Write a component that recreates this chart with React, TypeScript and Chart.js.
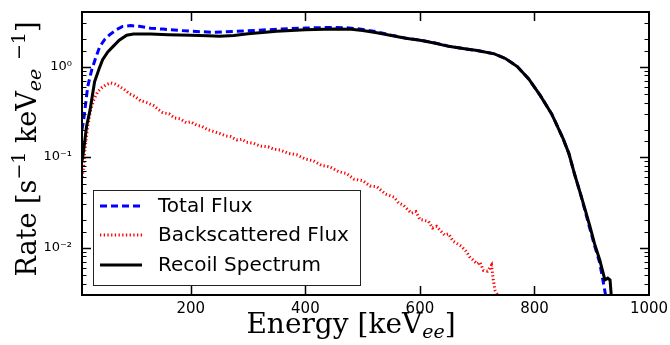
import React, { useEffect, useRef } from "react";
import { Chart, registerables } from "chart.js";

Chart.register(...registerables);

// ---- Data ----
const recoilEnergy = [10, 13, 18, 24, 32, 40, 46, 55, 64, 75, 88, 100, 130, 160, 200, 230, 250, 275, 300, 350, 400, 450, 480, 500, 525, 550, 575, 600, 625, 650, 675, 700, 730, 750, 770, 790, 810, 830, 850, 860, 870, 880, 888, 897, 905, 914, 923, 928, 932, 935, 937];
const recoilRate = [0.09, 0.12, 0.22, 0.33, 0.68, 0.95, 1.19, 1.45, 1.66, 1.95, 2.22, 2.28, 2.28, 2.25, 2.22, 2.18, 2.16, 2.2, 2.3, 2.45, 2.55, 2.6, 2.58, 2.5, 2.36, 2.2, 2.05, 1.95, 1.82, 1.67, 1.58, 1.5, 1.38, 1.22, 1.0, 0.73, 0.48, 0.3, 0.16, 0.11, 0.065, 0.04, 0.027, 0.017, 0.011, 0.0073, 0.0044, 0.0046, 0.0044, 0.0025, 0.001];

const totalEnergy = [10, 13, 20, 27, 34, 41, 50, 58, 70, 81, 95, 110, 130, 151, 180, 210, 240, 280, 320, 356, 400, 443, 470, 495, 525, 550, 575, 600, 625, 650, 675, 700, 730, 750, 770, 790, 810, 830, 850, 860, 870, 880, 888, 897, 905, 914, 920, 925];
const totalRate = [0.2, 0.26, 0.6, 0.92, 1.25, 1.66, 2.0, 2.24, 2.55, 2.77, 2.83, 2.78, 2.65, 2.59, 2.5, 2.44, 2.38, 2.45, 2.52, 2.59, 2.66, 2.7, 2.68, 2.6, 2.42, 2.22, 2.06, 1.96, 1.83, 1.68, 1.58, 1.5, 1.38, 1.22, 1.0, 0.73, 0.48, 0.3, 0.16, 0.11, 0.065, 0.04, 0.026, 0.016, 0.0105, 0.0068, 0.0042, 0.0028];

const backEnergy = [10, 12, 15, 20, 25, 30, 37, 44, 52, 60, 68, 76, 85, 93, 102, 112, 123, 135, 145, 151, 162, 172, 181, 192, 200, 210, 220, 230, 239, 250, 260, 270, 280, 290, 297, 310, 322, 335, 345, 356, 370, 385, 400, 414, 428, 443, 458, 472, 485, 500, 513, 525, 540, 555, 563, 571, 585, 593, 600, 615, 622, 629, 643, 650, 658, 672, 680, 687, 700, 705, 711, 718, 725, 728, 731, 738, 745];
const backRate = [0.06, 0.07, 0.12, 0.22, 0.33, 0.42, 0.52, 0.58, 0.63, 0.66, 0.64, 0.6, 0.55, 0.5, 0.47, 0.42, 0.4, 0.37, 0.33, 0.31, 0.3, 0.27, 0.265, 0.24, 0.245, 0.225, 0.218, 0.2, 0.192, 0.183, 0.172, 0.168, 0.155, 0.157, 0.146, 0.142, 0.132, 0.13, 0.122, 0.12, 0.11, 0.106, 0.095, 0.091, 0.081, 0.078, 0.069, 0.066, 0.057, 0.055, 0.048, 0.047, 0.039, 0.036, 0.031, 0.0295, 0.024, 0.025, 0.0205, 0.0195, 0.0165, 0.0172, 0.0138, 0.0142, 0.0118, 0.0104, 0.0092, 0.0079, 0.0066, 0.0069, 0.0056, 0.0055, 0.0064, 0.0045, 0.0034, 0.0028, 0.0015];

const xTickValues = [200, 400, 600, 800, 1000];
const legendLabels = ["Total Flux", "Backscattered Flux", "Recoil Spectrum"];

const SUP: Record<string, string> = { "0": "\u2070", "1": "\u00B9", "2": "\u00B2", "3": "\u00B3", "-": "\u207B" };
const toSup = (n: number) => String(n).split("").map((c) => SUP[c] || c).join("");

const pts = (xs: number[], ys: number[]) => xs.map((x, i) => ({ x, y: ys[i] }));

type Part = { text: string; font: string; dy: number };

function drawRich(ctx: CanvasRenderingContext2D, parts: Part[], cx: number, baseY: number) {
  let total = 0;
  const widths = parts.map((p) => {
    ctx.font = p.font;
    const w = ctx.measureText(p.text).width;
    total += w;
    return w;
  });
  let x = cx - total / 2;
  ctx.textAlign = "left";
  ctx.textBaseline = "alphabetic";
  parts.forEach((p, i) => {
    ctx.font = p.font;
    ctx.fillText(p.text, x, baseY + p.dy);
    x += widths[i];
  });
}

const SERIF = "'DejaVu Serif', serif";
const SANS = "'DejaVu Sans', sans-serif";

const decorPlugin = {
  id: "decor",
  afterDraw(chart: any) {
    const ctx: CanvasRenderingContext2D = chart.ctx;
    const { left, right, top, bottom } = chart.chartArea;
    const xs = chart.scales.x;
    const ys = chart.scales.y;
    ctx.save();
    ctx.strokeStyle = "#000";
    ctx.lineCap = "butt";
    // x ticks (inward, bottom and top)
    ctx.lineWidth = 1.5;
    xTickValues.forEach((v) => {
      const px = Math.round(xs.getPixelForValue(v)) + 0.5;
      if (px < left + 2 || px > right - 2) return;
      ctx.beginPath();
      ctx.moveTo(px, bottom);
      ctx.lineTo(px, bottom - 9);
      ctx.moveTo(px, top);
      ctx.lineTo(px, top + 9);
      ctx.stroke();
    });
    // y ticks
    ys.ticks.forEach((t: any) => {
      const v = t.value;
      const l = Math.log10(v);
      const major = Math.abs(l - Math.round(l)) < 1e-6;
      const py = Math.round(ys.getPixelForValue(v)) + 0.5;
      if (py < top + 2 || py > bottom - 2) return;
      const len = major ? 9 : 4.5;
      ctx.lineWidth = major ? 1.5 : 1;
      ctx.beginPath();
      ctx.moveTo(left, py);
      ctx.lineTo(left + len, py);
      ctx.moveTo(right, py);
      ctx.lineTo(right - len, py);
      ctx.stroke();
    });
    // frame
    ctx.lineWidth = 2;
    ctx.strokeRect(left, top, right - left, bottom - top);

    // legend
    const lx = 93, ly = 190, lw = 267, lh = 95;
    ctx.fillStyle = "#fff";
    ctx.fillRect(lx, ly, lw, lh);
    ctx.lineWidth = 1;
    ctx.strokeStyle = "#222";
    ctx.strokeRect(lx + 0.5, ly + 0.5, lw, lh);
    const rows = [206, 235, 265];
    const styles = [
      { color: "#0000ff", dash: [7, 4], width: 3 },
      { color: "#ff0000", dash: [1.3, 2.4], width: 3 },
      { color: "#000000", dash: [], width: 3 },
    ];
    rows.forEach((ry, i) => {
      const s = styles[i];
      ctx.beginPath();
      ctx.setLineDash(s.dash);
      ctx.strokeStyle = s.color;
      ctx.lineWidth = s.width;
      ctx.moveTo(100, ry);
      ctx.lineTo(142, ry);
      ctx.stroke();
      ctx.setLineDash([]);
      ctx.fillStyle = "#000";
      ctx.font = `20px ${SANS}`;
      ctx.textAlign = "left";
      ctx.textBaseline = "middle";
      ctx.fillText(legendLabels[i], 158, ry + 1);
    });

    // axis titles
    ctx.fillStyle = "#000";
    const big = `28px ${SERIF}`;
    const small = `19px ${SERIF}`;
    const smallIt = `italic 19px ${SERIF}`;
    drawRich(
      ctx,
      [
        { text: "Energy [keV", font: big, dy: 0 },
        { text: "ee", font: smallIt, dy: 5 },
        { text: "]", font: big, dy: 0 },
      ],
      351,
      333
    );
    const bigY = `27px ${SERIF}`;
    ctx.save();
    ctx.translate(36, 149);
    ctx.rotate(-Math.PI / 2);
    drawRich(
      ctx,
      [
        { text: "Rate [s", font: bigY, dy: 0 },
        { text: "\u22121", font: small, dy: -11 },
        { text: " keV", font: bigY, dy: 0 },
        { text: "ee", font: smallIt, dy: 5 },
        { text: " ", font: bigY, dy: 0 },
        { text: "\u22121", font: small, dy: -11 },
        { text: "]", font: bigY, dy: 0 },
      ],
      0,
      0
    );
    ctx.restore();
    ctx.restore();
  },
};

const zeroPad = (s: any) => {
  s.paddingLeft = 0;
  s.paddingRight = 0;
  s.paddingTop = 0;
  s.paddingBottom = 0;
};

export default function App() {
  const ref = useRef<HTMLCanvasElement | null>(null);
  useEffect(() => {
    document.body.style.margin = "0";
    const canvas = ref.current;
    if (!canvas) return;
    const chart = new Chart(canvas, {
      type: "line",
      data: {
        datasets: [
          {
            label: legendLabels[2],
            data: pts(recoilEnergy, recoilRate),
            borderColor: "#000000",
            borderWidth: 3,
            pointRadius: 0,
            tension: 0,
            order: 0,
          },
          {
            label: legendLabels[1],
            data: pts(backEnergy, backRate),
            borderColor: "#ff0000",
            borderWidth: 3,
            borderDash: [1.3, 2.4],
            pointRadius: 0,
            tension: 0,
            order: 1,
          },
          {
            label: legendLabels[0],
            data: pts(totalEnergy, totalRate),
            borderColor: "#0000ff",
            borderWidth: 3,
            borderDash: [7, 4],
            pointRadius: 0,
            tension: 0,
            order: 2,
          },
        ],
      },
      options: {
        animation: false,
        responsive: false,
        devicePixelRatio: 1,
        layout: { padding: { top: 12, right: 21, left: 0, bottom: 0 } },
        plugins: { legend: { display: false }, tooltip: { enabled: false } },
        scales: {
          x: {
            type: "linear",
            min: 10,
            max: 1000,
            grid: { display: false, drawTicks: false },
            border: { display: false },
            afterBuildTicks: (s: any) => {
              s.ticks = xTickValues.map((v) => ({ value: v }));
            },
            afterFit: (s: any) => {
              s.height = 50;
              zeroPad(s);
            },
            ticks: {
              autoSkip: false,
              maxRotation: 0,
              padding: 5,
              color: "#000",
              font: { family: "'DejaVu Sans', sans-serif", size: 15 },
              callback: (v: any) => String(v),
            },
          },
          y: {
            type: "logarithmic",
            min: 0.003,
            max: 4,
            grid: { display: false, drawTicks: false },
            border: { display: false },
            afterFit: (s: any) => {
              s.width = 82;
              zeroPad(s);
            },
            ticks: {
              autoSkip: false,
              padding: 10,
              color: "#000",
              font: { family: "'DejaVu Sans', sans-serif", size: 13 },
              callback: (v: any) => {
                const l = Math.log10(Number(v));
                if (Math.abs(l - Math.round(l)) < 1e-6) return "10" + toSup(Math.round(l));
                return "";
              },
            },
          },
        },
      },
      plugins: [decorPlugin],
    } as any);
    return () => chart.destroy();
  }, []);
  return <canvas ref={ref} width={670} height={345} style={{ display: "block" }} />;
}
